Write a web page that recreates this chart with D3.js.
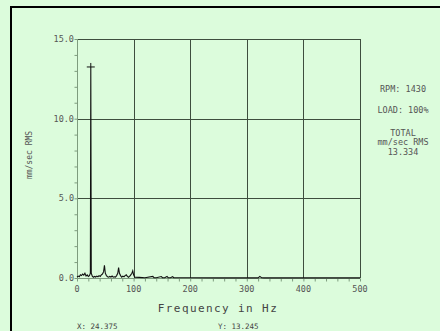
<!DOCTYPE html>
<html>
<head>
<meta charset="utf-8">
<script src="https://cdn.jsdelivr.net/npm/d3@7/dist/d3.min.js"></script>
<style>
  html, body { margin: 0; padding: 0; background: #dcfcdc; }
  svg { display: block; }
</style>
</head>
<body>
<div id="chart"></div>
<script>
// Spectrum values (Hz, mm/sec RMS)
const freqs = [0, 2, 4, 6, 8, 10, 12, 14, 16, 18, 20, 22, 23.6, 24.375, 25.2, 27, 29, 31, 33, 35, 37, 39, 41, 43, 45, 47, 48.5, 50, 52, 54, 56, 58, 60, 62, 64, 66, 68, 70, 72, 73.5, 75, 77, 79, 81, 83, 85, 87, 89, 91, 93, 95, 97, 98.5, 100, 102, 110, 120, 134, 136, 140, 149, 151, 155, 159, 161, 165, 169, 171, 180, 200, 250, 320, 323, 326, 330, 400, 500]
const amps = [0.05, 0.12, 0.08, 0.2, 0.15, 0.25, 0.18, 0.3, 0.12, 0.2, 0.1, 0.15, 0.3, 13.245, 0.3, 0.12, 0.05, 0.1, 0.06, 0.12, 0.08, 0.15, 0.1, 0.2, 0.25, 0.4, 0.8, 0.3, 0.15, 0.08, 0.05, 0.1, 0.06, 0.12, 0.05, 0.08, 0.06, 0.15, 0.3, 0.65, 0.3, 0.15, 0.05, 0.12, 0.08, 0.15, 0.2, 0.1, 0.05, 0.1, 0.2, 0.3, 0.45, 0.2, 0.05, 0.04, 0.02, 0.1, 0.02, 0.02, 0.09, 0.02, 0.02, 0.1, 0.02, 0.02, 0.08, 0.02, 0.02, 0.02, 0.01, 0.01, 0.1, 0.02, 0.01, 0.01, 0.01]

const yMajor = [0, 5, 10, 15]
const yMinor = d3.range(0, 16, 1)
const xMajor = [0, 100, 200, 300, 400, 500]
const xMinor = d3.range(0, 501, 20)

const infoLines = ['RPM: 1430', 'LOAD: 100%', 'TOTAL', 'mm/sec RMS', '13.334']
const cursorX = 24.375
const cursorY = 13.245

const width = 440
const height = 331
const plot = { left: 77, right: 360, top: 39, bottom: 278 }

const mono = '"DejaVu Sans Mono", "Liberation Mono", monospace'
const gridColor = '#3e4e3e'
const axisColor = '#7e9c7e'
const labelColor = '#555'

const svg = d3
  .select('#chart')
  .append('svg')
  .attr('width', width)
  .attr('height', height)

svg.append('rect').attr('width', width).attr('height', height).attr('fill', '#dcfcdc')

// Window frame (top and left edges)
svg.append('rect').attr('x', 10).attr('y', 6).attr('width', width - 10).attr('height', 2).attr('fill', '#000')
svg.append('rect').attr('x', 10).attr('y', 6).attr('width', 2).attr('height', height - 6).attr('fill', '#000')

const x = d3.scaleLinear().domain([0, 500]).range([plot.left, plot.right])
const y = d3.scaleLinear().domain([0, 15]).range([plot.bottom, plot.top])

// Grid
const grid = svg.append('g').attr('shape-rendering', 'crispEdges')
grid
  .selectAll('line.v')
  .data(xMajor.filter((d) => d > 0))
  .join('line')
  .attr('class', 'v')
  .attr('x1', (d) => Math.round(x(d)) + 0.5)
  .attr('x2', (d) => Math.round(x(d)) + 0.5)
  .attr('y1', y(15))
  .attr('y2', y(0))
  .attr('stroke', gridColor)
  .attr('stroke-width', 1)
grid
  .selectAll('line.h')
  .data(yMajor.filter((d) => d > 0))
  .join('line')
  .attr('class', 'h')
  .attr('x1', x(0))
  .attr('x2', x(500))
  .attr('y1', (d) => Math.round(y(d)) + 0.5)
  .attr('y2', (d) => Math.round(y(d)) + 0.5)
  .attr('stroke', gridColor)
  .attr('stroke-width', 1)

// Axes
const yAxis = svg
  .append('g')
  .attr('transform', `translate(${plot.left + 0.5},0)`)
  .call(d3.axisLeft(y).tickValues(yMinor).tickSize(3).tickFormat(''))
yAxis.select('.domain').attr('stroke', axisColor).attr('d', `M0,${plot.top}V${plot.bottom}`)
yAxis.selectAll('.tick line').attr('stroke', axisColor)

const yLabels = svg.append('g')
yLabels
  .selectAll('text')
  .data(yMajor)
  .join('text')
  .attr('x', plot.left - 3)
  .attr('y', (d) => y(d) + 3)
  .attr('text-anchor', 'end')
  .attr('font-family', mono)
  .attr('font-size', 8.5)
  .attr('fill', labelColor)
  .text((d) => d.toFixed(1))

const xAxis = svg
  .append('g')
  .attr('transform', `translate(0,${plot.bottom + 0.5})`)
  .call(d3.axisBottom(x).tickValues(xMinor).tickSize(3).tickFormat(''))
xAxis.select('.domain').attr('stroke', axisColor).attr('d', `M${plot.left},0H${plot.right}`)
xAxis.selectAll('.tick line').attr('stroke', axisColor)

svg
  .append('g')
  .selectAll('text')
  .data(xMajor)
  .join('text')
  .attr('x', (d) => x(d))
  .attr('y', plot.bottom + 14)
  .attr('text-anchor', 'middle')
  .attr('font-family', mono)
  .attr('font-size', 8.5)
  .attr('fill', labelColor)
  .text((d) => d)

// Spectrum
const data = freqs.map((f, i) => ({ f, a: amps[i] }))
const line = d3
  .line()
  .x((d) => x(d.f))
  .y((d) => y(d.a))
svg
  .append('path')
  .datum(data)
  .attr('d', line)
  .attr('fill', 'none')
  .attr('stroke', '#111')
  .attr('stroke-width', 1.1)
  .attr('stroke-linejoin', 'miter')

// Cursor marker at peak
const cx = x(cursorX)
const cy = y(cursorY)
svg
  .append('path')
  .attr('d', `M${cx - 4},${cy}H${cx + 4}M${cx},${cy - 4}V${cy}`)
  .attr('stroke', '#111')
  .attr('stroke-width', 1)

// Titles
svg
  .append('text')
  .attr('transform', `translate(32,155) rotate(-90)`)
  .attr('text-anchor', 'middle')
  .attr('font-family', mono)
  .attr('font-size', 8)
  .attr('fill', labelColor)
  .text('mm/sec RMS')

svg
  .append('text')
  .attr('x', 218)
  .attr('y', 312)
  .attr('text-anchor', 'middle')
  .attr('font-family', mono)
  .attr('font-size', 11)
  .attr('letter-spacing', 1.4)
  .attr('fill', '#444')
  .text('Frequency in Hz')

svg
  .append('text')
  .attr('x', 77)
  .attr('y', 329)
  .attr('font-family', mono)
  .attr('font-size', 7.5)
  .attr('fill', '#444')
  .text(`X: ${cursorX.toFixed(3)}`)
svg
  .append('text')
  .attr('x', 218)
  .attr('y', 329)
  .attr('font-family', mono)
  .attr('font-size', 7.5)
  .attr('fill', '#444')
  .text(`Y: ${cursorY.toFixed(3)}`)

// Info panel
const infoY = [92, 113, 136, 145, 155]
svg
  .append('g')
  .selectAll('text')
  .data(infoLines)
  .join('text')
  .attr('x', 403)
  .attr('y', (d, i) => infoY[i])
  .attr('text-anchor', 'middle')
  .attr('font-family', mono)
  .attr('font-size', 8.5)
  .attr('fill', labelColor)
  .text((d) => d)
</script>
</body>
</html>
